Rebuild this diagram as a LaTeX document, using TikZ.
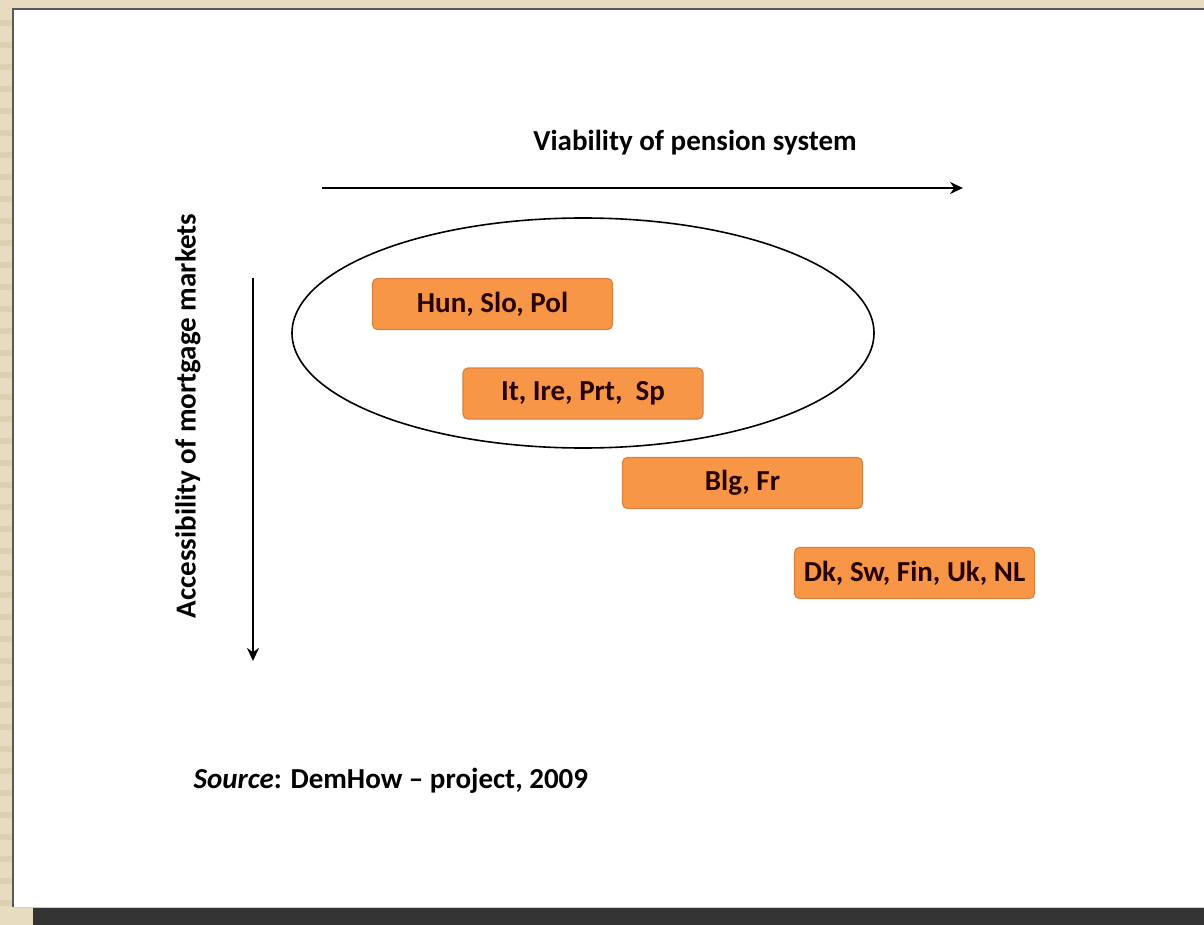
\documentclass[tikz,border=0pt]{standalone}
\usepackage{fontspec}
\setmainfont{Carlito}
\usetikzlibrary{arrows.meta,shapes.geometric}
\definecolor{beige}{HTML}{E8DCC0}
\definecolor{stripe}{HTML}{DDD0B0}
\definecolor{darkbar}{HTML}{333333}
\definecolor{orangefill}{HTML}{F79646}
\definecolor{orangedraw}{HTML}{D9823F}
\begin{document}
\begin{tikzpicture}[x=1pt,y=-1pt,
  country/.style={draw=orangedraw,line width=1.2pt,fill=orangefill,rounded corners=5pt,
    minimum width=240pt,minimum height=51pt,inner sep=0pt,
    font=\bfseries\fontsize{29}{31}\selectfont,text=black!85!red},
  axislabel/.style={font=\bfseries\fontsize{29}{31}\selectfont},
  axisarrow/.style={line width=2.6pt,-{Stealth[length=13pt,width=12pt]}}]
\useasboundingbox (0,0) rectangle (1204,925);
% background
\fill[beige] (0,0) rectangle (1204,925);
\foreach \y in {20,42,...,900} \fill[stripe] (0,\y) rectangle (12,\y+6);
\fill[darkbar] (33,908) rectangle (1204,925);
\fill[white] (12,8) rectangle (1204,908);
\draw[gray!70!black,line width=2pt] (13,908) -- (13,9) -- (1204,9);
\draw[gray!40,line width=1pt] (12,907.5) -- (1204,907.5);
% axes
\node[axislabel,anchor=center] (title) at (695,143) {Viability of pension system};
\coordinate (hs) at (322,188);
\coordinate (he) at (963,188);
\draw[axisarrow] (hs) -- (he);
\node[axislabel,rotate=90,anchor=center] (vlabel) at (188,416) {Accessibility of mortgage markets};
\coordinate (vs) at (253,278);
\coordinate (ve) at (253,661);
\draw[axisarrow] (vs) -- (ve);
% ellipse
\node[draw,ellipse,line width=1.6pt,minimum width=582pt,minimum height=230pt] (ell) at (583,333) {};
% boxes
\node[country] (b1) at (492.5,304) {Hun, Slo, Pol};
\node[country] (b2) at (583,393.5) {It, Ire, Prt,\ \ Sp};
\node[country] (b3) at (742.5,483) {Blg, Fr};
\node[country] (b4) at (914.5,573) {Dk, Sw, Fin, Uk, NL};
% source
\node[anchor=west,font=\bfseries\fontsize{29}{31}\selectfont] (src) at (190,781) {\textit{Source}: DemHow – project, 2009};
\end{tikzpicture}
\end{document}
